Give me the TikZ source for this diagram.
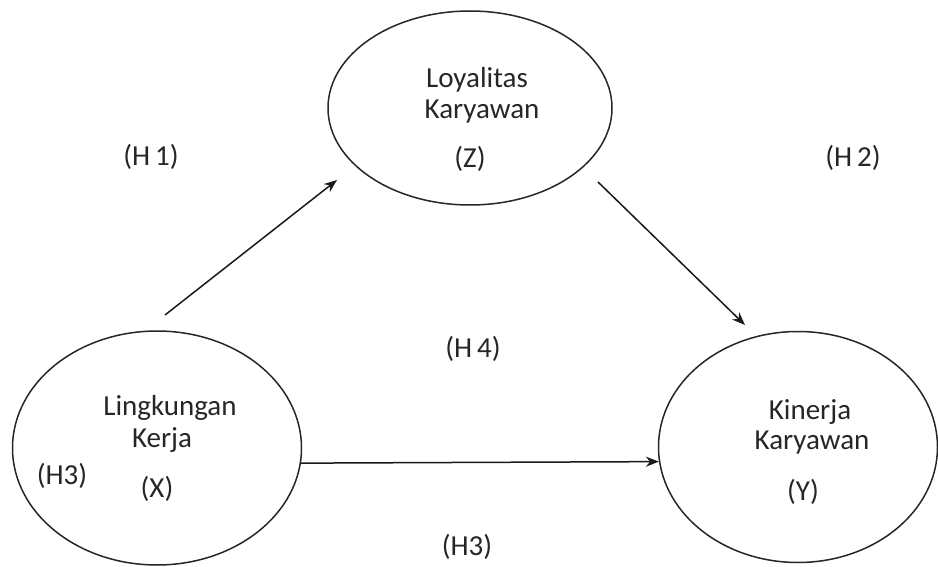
\documentclass[tikz,border=0pt]{standalone}
\usepackage{fontspec}
\setmainfont{Carlito}
\usetikzlibrary{shapes.geometric,arrows.meta}
\begin{document}
\begin{tikzpicture}[x=1pt,y=-1pt,
  var/.style={draw=black!85,line width=1.5pt,ellipse,inner sep=0pt},
  lbl/.style={anchor=base,inner sep=0pt,text=black!85,font=\fontsize{29}{33}\selectfont},
  arr/.style={draw=black!90,line width=1.5pt,-{Stealth[length=13pt,width=10pt]}}]
\useasboundingbox (0,0) rectangle (938,567);
% ellipses
\node[var,minimum width=284pt,minimum height=194pt] (Z) at (470,108) {};
\node[var,minimum width=289pt,minimum height=234pt] (X) at (157,448) {};
\node[var,minimum width=279pt,minimum height=231pt] (Y) at (798,447) {};
% texts in Z
\node[lbl] (z1) at (477,88) {Loyalitas};
\node[lbl] (z2) at (482,119) {Karyawan};
\node[lbl] (z3) at (470,168) {(Z)};
% texts in X
\node[lbl] (x1) at (170,415) {Lingkungan};
\node[lbl] (x2) at (162,447) {Kerja};
\node[lbl] (x3) at (157,497) {(X)};
\node[lbl] (h3a) at (62,484) {(H3)};
% texts in Y
\node[lbl] (y1) at (810,419) {Kinerja};
\node[lbl] (y2) at (812,449) {Karyawan};
\node[lbl] (y3) at (803,500) {(Y)};
% hypothesis labels
\node[lbl] (h1) at (151,166) {(H\,1)};
\node[lbl] (h2) at (853,167) {(H\,2)};
\node[lbl] (h4) at (473,357) {(H\,4)};
\node[lbl] (h3b) at (467,555) {(H3)};
% arrows
\coordinate (a1s) at (165,315);
\coordinate (a1e) at (337,180);
\coordinate (a2s) at (598,182);
\coordinate (a2e) at (745,325);
\draw[arr] (a1s) -- (a1e);
\draw[arr] (a2s) -- (a2e);
\draw[arr] (X.-6) -- (Y.186.5);
\end{tikzpicture}
\end{document}
